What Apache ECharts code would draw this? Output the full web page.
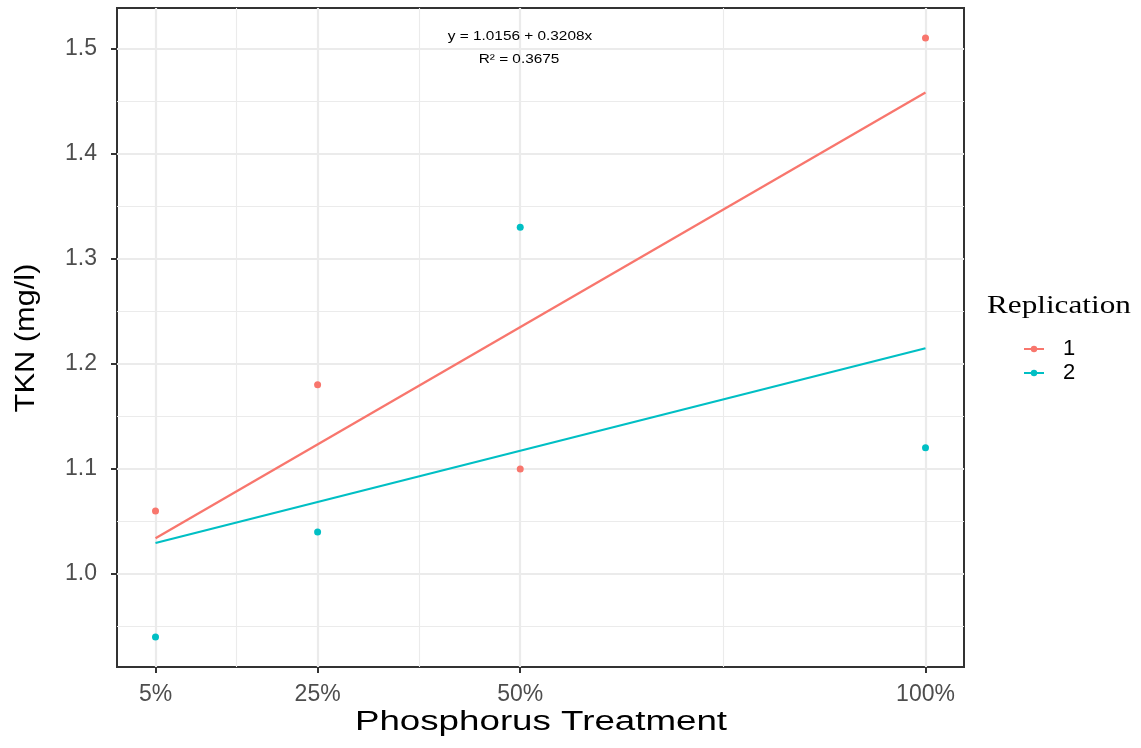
<!DOCTYPE html>
<html>
<head>
  <meta charset="utf-8" />
  <title>TKN vs Phosphorus Treatment</title>
  <style>
    html, body { margin: 0; padding: 0; background: #fff; }
    #chart { width: 1141px; height: 748px; }
  </style>
</head>
<body>
  <div id="chart"></div>
  <script src="https://cdn.jsdelivr.net/npm/echarts@6/dist/echarts.min.js"></script>
  <script>
    // data
    var treatments = [5, 25, 50, 100];          // % phosphorus
    var rep1 = [1.06, 1.18, 1.10, 1.51];
    var rep2 = [0.94, 1.04, 1.33, 1.12];
    var seriesNames = ['1', '2'];
    var colors = ['#F8766D', '#00BFC4'];

    var yTicks = [1.0, 1.1, 1.2, 1.3, 1.4, 1.5];
    var yMinor = [0.95, 1.05, 1.15, 1.25, 1.35, 1.45];
    var xMinor = [15, 37.5, 75];

    var eqText = 'y = 1.0156 + 0.3208x';
    var r2Text = 'R² = 0.3675';

    // least squares fit for each replication
    function fit(xs, ys) {
      var n = xs.length, mx = 0, my = 0;
      for (var i = 0; i < n; i++) { mx += xs[i]; my += ys[i]; }
      mx /= n; my /= n;
      var sxx = 0, sxy = 0;
      for (var j = 0; j < n; j++) {
        sxx += (xs[j] - mx) * (xs[j] - mx);
        sxy += (xs[j] - mx) * (ys[j] - my);
      }
      var b = sxy / sxx, a = my - b * mx;
      var x0 = xs[0], x1 = xs[n - 1];
      return [[x0, a + b * x0], [x1, a + b * x1]];
    }

    function points(xs, ys) {
      return xs.map(function (x, i) { return [x, ys[i]]; });
    }

    // panel grid (major + minor), ggplot style
    var gridLines = [];
    function addLines(vals, key, w) {
      vals.forEach(function (v) {
        var d = { lineStyle: { color: '#ebebeb', width: w, type: 'solid' } };
        d[key] = v;
        gridLines.push(d);
      });
    }
    addLines(xMinor, 'xAxis', 1.1);
    addLines(yMinor, 'yAxis', 1.1);
    addLines(treatments, 'xAxis', 2.2);
    addLines(yTicks, 'yAxis', 2.2);

    var allY = rep1.concat(rep2);
    var yLo = Math.min.apply(null, allY), yHi = Math.max.apply(null, allY);
    var yPad = (yHi - yLo) * 0.05;
    var xPad = (treatments[treatments.length - 1] - treatments[0]) * 0.05;

    var series = [{
      type: 'line',
      data: [],
      z: 0,
      silent: true,
      markLine: {
        z: 0,
        silent: true,
        symbol: ['none', 'none'],
        label: { show: false },
        emphasis: { disabled: true },
        animation: false,
        data: gridLines
      }
    }];
    [rep1, rep2].forEach(function (ys, k) {
      series.push({
        name: seriesNames[k],
        type: 'line',
        data: fit(treatments, ys),
        showSymbol: false,
        symbol: 'circle',
        symbolSize: 7,
        z: 3,
        itemStyle: { color: colors[k] },
        lineStyle: { color: colors[k], width: 2.3 }
      });
      series.push({
        name: seriesNames[k],
        type: 'scatter',
        data: points(treatments, ys),
        symbolSize: 7,
        z: 4,
        itemStyle: { color: colors[k], opacity: 1 }
      });
    });

    var chart = echarts.init(document.getElementById('chart'));
    chart.setOption({
      animation: false,
      backgroundColor: '#fff',
      grid: {
        left: 117, right: 177, top: 8, bottom: 81,
        show: true, borderColor: '#333', borderWidth: 2, backgroundColor: 'transparent'
      },
      xAxis: {
        type: 'value',
        min: treatments[0] - xPad,
        max: treatments[treatments.length - 1] + xPad,
        axisLine: { show: false },
        splitLine: { show: false },
        axisTick: { show: true, length: 6, customValues: treatments, lineStyle: { color: '#333', width: 2 } },
        axisLabel: {
          customValues: treatments, margin: 16,
          fontFamily: 'Liberation Sans', fontSize: 23, color: '#4d4d4d',
          formatter: function (v) { return v + '%'; }
        }
      },
      yAxis: {
        type: 'value',
        min: yLo - yPad,
        max: yHi + yPad,
        axisLine: { show: false },
        splitLine: { show: false },
        axisTick: { show: true, length: 6, customValues: yTicks, lineStyle: { color: '#333', width: 2 } },
        axisLabel: {
          customValues: yTicks, margin: 20,
          fontFamily: 'Liberation Sans', fontSize: 23, color: '#4d4d4d',
          formatter: function (v) { return v.toFixed(1); }
        }
      },
      legend: {
        data: seriesNames,
        orient: 'vertical',
        left: 1018, top: 333,
        itemWidth: 20, itemHeight: 8, itemGap: 2,
        selectedMode: false,
        textStyle: { fontFamily: 'Liberation Sans', fontSize: 22, color: '#000', padding: [0, 0, 0, 14] }
      },
      graphic: [
        { type: 'text', x: 541, y: 723, scaleX: 1.36, z: 100,
          style: { text: 'Phosphorus Treatment', fontFamily: 'Liberation Sans', fontSize: 27, fill: '#000',
                   textAlign: 'center', textVerticalAlign: 'middle' } },
        { type: 'text', x: 26, y: 338, rotation: Math.PI / 2, scaleX: 1.1, z: 100,
          style: { text: 'TKN (mg/l)', fontFamily: 'Liberation Sans', fontSize: 28, fill: '#000',
                   textAlign: 'center', textVerticalAlign: 'middle' } },
        { type: 'text', x: 987, y: 306, scaleX: 1.2, z: 100,
          style: { text: 'Replication', fontFamily: 'Liberation Serif', fontSize: 26, fill: '#000',
                   textAlign: 'left', textVerticalAlign: 'middle' } },
        { type: 'text', x: 520, y: 37, scaleX: 1.28, z: 100,
          style: { text: eqText, fontFamily: 'Liberation Sans', fontSize: 12, fill: '#000',
                   textAlign: 'center', textVerticalAlign: 'middle' } },
        { type: 'text', x: 519, y: 60, scaleX: 1.28, z: 100,
          style: { text: r2Text, fontFamily: 'Liberation Sans', fontSize: 12, fill: '#000',
                   textAlign: 'center', textVerticalAlign: 'middle' } }
      ],
      series: series
    });
  </script>
</body>
</html>
